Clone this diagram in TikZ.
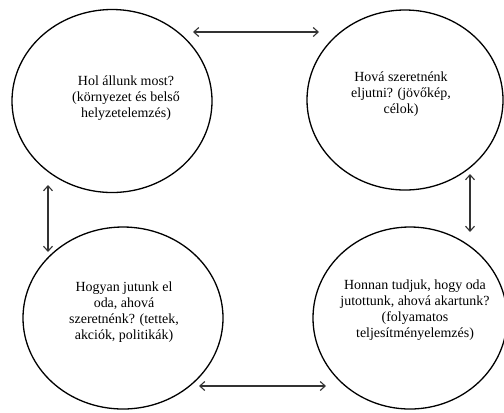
\documentclass[tikz,border=0pt]{standalone}
\usepackage{fontspec}
\setmainfont{Liberation Serif}
\usetikzlibrary{shapes.geometric,arrows.meta}
\begin{document}
\begin{tikzpicture}[x=1bp,y=-1bp,
  bubble/.style={draw=black,line width=1.3bp,ellipse,inner sep=0pt},
  qtext/.style={align=center,inner sep=0pt,font=\rmfamily\fontsize{14}{16}\selectfont},
  link/.style={draw=black!80,line width=1.1bp,{Straight Barb[length=5bp,width=9bp]}-{Straight Barb[length=5bp,width=9bp]}}]
\useasboundingbox (0,0) rectangle (504,412);
\clip (0,0) rectangle (504,412);
\node[bubble,minimum width=200bp,minimum height=183bp] (tl) at (112,101) {};
\node[bubble,minimum width=196bp,minimum height=180bp] (tr) at (405,100) {};
\node[bubble,minimum width=200bp,minimum height=182bp] (bl) at (123,318) {};
\node[bubble,minimum width=194bp,minimum height=182bp] (br) at (410,318) {};
\node[qtext] (tlt) at (126,98) {Hol állunk most?\\(környezet és belső\\helyzetelemzés)};
\node[qtext] (trt) at (401,94) {Hová szeretnénk\\eljutni? (jövőkép,\\célok)};
\node[qtext] (blt) at (124,312) {Hogyan jutunk el\\oda, ahová\\szeretnénk? (tettek,\\akciók, politikák)};
\node[qtext] (brt) at (415,310) {Honnan tudjuk, hogy oda\\jutottunk, ahová akartunk?\\(folyamatos\\teljesítményelemzés)};
\coordinate (a1) at (193,32);
\coordinate (a2) at (319,32);
\coordinate (b1) at (199,386);
\coordinate (b2) at (326,386);
\coordinate (c1) at (48,185);
\coordinate (c2) at (48,252);
\coordinate (d1) at (470,174);
\coordinate (d2) at (470,232);
\draw[link] (a1) -- (a2);
\draw[link] (b1) -- (b2);
\draw[link] (c1) -- (c2);
\draw[link] (d1) -- (d2);
\end{tikzpicture}
\end{document}
